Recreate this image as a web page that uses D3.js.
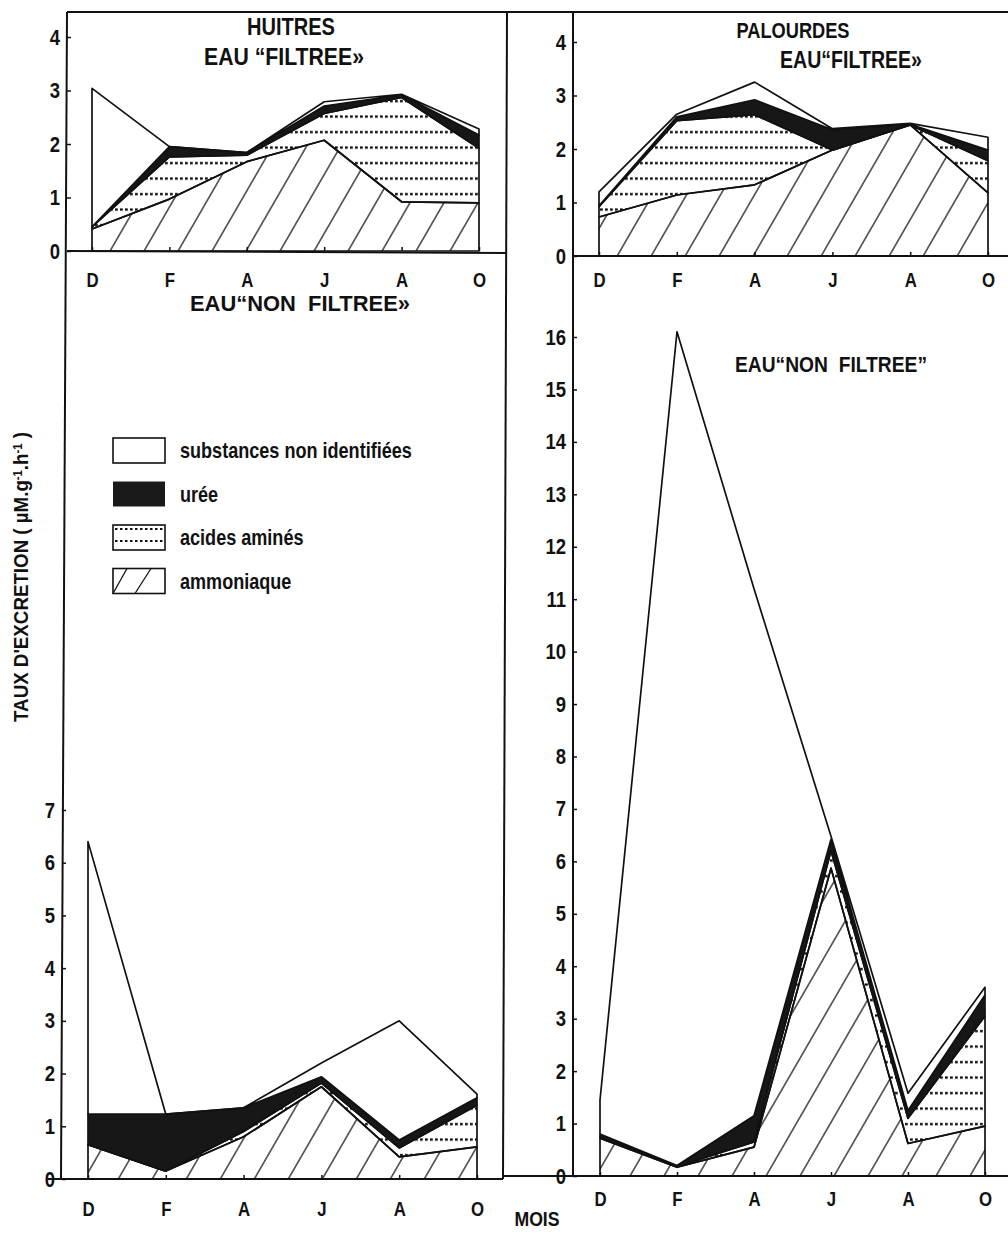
<!DOCTYPE html>
<html>
<head>
<meta charset="utf-8">
<script src="https://cdn.jsdelivr.net/npm/d3@7"></script>
<style>
  body { margin: 0; background: #fff; }
  svg text {
    font-family: "Liberation Sans", Arial, sans-serif;
    font-weight: bold;
    fill: #111;
  }
</style>
</head>
<body>
<svg id="chart" width="1008" height="1242"></svg>
<script>
// Months (D = December ... O = October)
const months = ['D', 'F', 'A', 'J', 'A', 'O'];
const layerKeys = ['ammoniaque', 'acides', 'uree', 'nonIdent'];
const legendLabels = ['substances non identifiées', 'urée', 'acides aminés', 'ammoniaque'];

// Huitres, eau "filtree" (µM.g-1.h-1, each component)
const huitresFiltAmmoniaque = [0.41, 0.97, 1.67, 2.07, 0.92, 0.90];
const huitresFiltAcides     = [0.04, 0.79, 0.12, 0.50, 1.95, 1.02];
const huitresFiltUree       = [0.00, 0.19, 0.05, 0.14, 0.05, 0.25];
const huitresFiltNonIdent   = [2.59, 0.00, 0.00, 0.08, 0.01, 0.11];

// Palourdes, eau "filtree"
const palourdesFiltAmmoniaque = [0.73, 1.14, 1.33, 1.98, 2.45, 1.18];
const palourdesFiltAcides     = [0.19, 1.39, 1.31, 0.00, 0.00, 0.60];
const palourdesFiltUree       = [0.02, 0.07, 0.28, 0.38, 0.01, 0.20];
const palourdesFiltNonIdent   = [0.26, 0.05, 0.33, 0.02, 0.02, 0.24];

// Huitres, eau "non filtree"
const huitresBrutAmmoniaque = [0.65, 0.15, 0.80, 1.75, 0.42, 0.61];
const huitresBrutAcides     = [0.00, 0.00, 0.10, 0.07, 0.17, 0.79];
const huitresBrutUree       = [0.58, 1.08, 0.45, 0.12, 0.15, 0.14];
const huitresBrutNonIdent   = [5.17, 0.00, 0.00, 0.26, 2.26, 0.07];

// Palourdes, eau "non filtree"
const palourdesBrutAmmoniaque = [0.72, 0.17, 0.55, 5.87, 0.62, 0.95];
const palourdesBrutAcides     = [0.03, 0.01, 0.10, 0.33, 0.48, 2.10];
const palourdesBrutUree       = [0.05, 0.02, 0.50, 0.22, 0.15, 0.40];
const palourdesBrutNonIdent   = [0.65, 15.90, 10.05, 0.06, 0.33, 0.15];

// Panel layout (pixel geometry of each small chart)
const panels = [
  {
    series: [huitresFiltAmmoniaque, huitresFiltAcides, huitresFiltUree, huitresFiltNonIdent],
    yMax: 4, xRange: [92, 479], yRange: [251, 37], axisX: 67, monthPad: 22,
    titles: [
      { text: 'HUITRES', x: 291, y: 35, size: 24, w: 88 },
      { text: 'EAU “FILTREE»', x: 284, y: 65, size: 23, w: 160 }
    ]
  },
  {
    series: [palourdesFiltAmmoniaque, palourdesFiltAcides, palourdesFiltUree, palourdesFiltNonIdent],
    yMax: 4, xRange: [599, 988], yRange: [256, 42], axisX: 573, monthPad: 17,
    titles: [
      { text: 'PALOURDES', x: 793, y: 38, size: 22, w: 113 },
      { text: 'EAU“FILTREE»', x: 851, y: 68, size: 23, w: 142 }
    ]
  },
  {
    series: [huitresBrutAmmoniaque, huitresBrutAcides, huitresBrutUree, huitresBrutNonIdent],
    yMax: 7, xRange: [88, 477], yRange: [1179, 810], axisX: 62, monthPad: 23,
    titles: [{ text: 'EAU“NON  FILTREE»', x: 300, y: 311, size: 22, w: 220 }]
  },
  {
    series: [palourdesBrutAmmoniaque, palourdesBrutAcides, palourdesBrutUree, palourdesBrutNonIdent],
    yMax: 16, xRange: [600, 985], yRange: [1176, 337], axisX: 573, monthPad: 16,
    titles: [{ text: 'EAU“NON  FILTREE”', x: 831, y: 372, size: 22, w: 192 }]
  }
];

const svg = d3.select('#chart');
const ink = '#111';
const narrow = 0.84; // the lettering of the figure is a condensed face

// Squeeze a text to a narrow width, keeping it as real text
function condense(sel, k) {
  sel.each(function() {
    const w = this.getComputedTextLength();
    d3.select(this)
      .attr('textLength', w * k)
      .attr('lengthAdjust', 'spacingAndGlyphs');
  });
}

// Fill patterns: hatching for ammonia, dotted rows for amino acids
const defs = svg.append('defs');
defs.append('pattern')
  .attr('id', 'hatch')
  .attr('patternUnits', 'userSpaceOnUse')
  .attr('width', 34)
  .attr('height', 20)
  .attr('patternTransform', 'skewX(-30)')
  .append('line')
  .attr('x1', 17).attr('y1', -1)
  .attr('x2', 17).attr('y2', 21)
  .attr('stroke', '#000')
  .attr('stroke-width', 1.3);

defs.append('pattern')
  .attr('id', 'dots')
  .attr('patternUnits', 'userSpaceOnUse')
  .attr('width', 5)
  .attr('height', 15.5)
  .append('rect')
  .attr('x', 0).attr('y', 7)
  .attr('width', 2.8).attr('height', 2.2)
  .attr('fill', '#000');

const layerFill = {
  ammoniaque: 'url(#hatch)',
  acides: 'url(#dots)',
  uree: '#171717',
  nonIdent: '#fff'
};

// Frame lines of the whole figure
const frame = [
  [67, 12, 1008, 12],     // top border
  [67, 12, 61, 1179],     // left axis
  [507, 12, 503, 1179],   // separator
  [573, 12, 573, 1176],   // right axis
  [67, 251, 506, 253],    // top-left baseline
  [573, 256, 1008, 256],  // top-right baseline
  [48, 1179, 503, 1179],  // bottom-left baseline
  [503, 1176, 1008, 1176] // bottom-right baseline
];
svg.append('g')
  .selectAll('line')
  .data(frame)
  .join('line')
  .attr('x1', d => d[0]).attr('y1', d => d[1])
  .attr('x2', d => d[2]).attr('y2', d => d[3])
  .attr('stroke', ink)
  .attr('stroke-width', 2);

panels.forEach(p => {
  const x = d3.scalePoint().domain(d3.range(months.length)).range(p.xRange);
  const y = d3.scaleLinear().domain([0, p.yMax]).range(p.yRange);

  const table = months.map((m, i) => {
    const row = {};
    layerKeys.forEach((k, j) => { row[k] = p.series[j][i]; });
    return row;
  });
  const stacked = d3.stack().keys(layerKeys)(table);

  const area = d3.area()
    .x((d, i) => x(i))
    .y0(d => y(d[0]))
    .y1(d => y(d[1]));

  const g = svg.append('g');

  g.selectAll('path.layer')
    .data(stacked)
    .join('path')
    .attr('class', 'layer')
    .attr('d', area)
    .attr('fill', d => layerFill[d.key])
    .attr('stroke', ink)
    .attr('stroke-width', 1.7)
    .attr('stroke-linejoin', 'round');

  // y axis ticks and labels
  const yAxis = d3.axisLeft(y)
    .tickValues(d3.range(0, p.yMax + 1))
    .tickFormat(d3.format('d'))
    .tickSize(-4)
    .tickPadding(7);

  g.append('g')
    .attr('transform', `translate(${p.axisX},0)`)
    .call(yAxis)
    .call(a => a.select('.domain').remove())
    .call(a => a.selectAll('line').attr('stroke', ink).attr('stroke-width', 1.5))
    .call(a => a.selectAll('text').attr('font-size', 22).attr('fill', ink).call(condense, narrow));

  // month axis
  const xAxis = d3.axisBottom(x)
    .tickFormat(i => months[i])
    .tickSize(-4)
    .tickPadding(p.monthPad);

  g.append('g')
    .attr('transform', `translate(0,${y(0)})`)
    .call(xAxis)
    .call(a => a.select('.domain').remove())
    .call(a => a.selectAll('line').attr('stroke', ink).attr('stroke-width', 1.5))
    .call(a => a.selectAll('text').attr('font-size', 20).attr('fill', ink).call(condense, narrow));

  // titles
  g.selectAll('text.title')
    .data(p.titles)
    .join('text')
    .attr('class', 'title')
    .attr('x', d => d.x)
    .attr('y', d => d.y)
    .attr('text-anchor', 'middle')
    .attr('font-size', d => d.size)
    .attr('xml:space', 'preserve')
    .style('white-space', 'pre')
    .attr('textLength', d => d.w)
    .attr('lengthAdjust', 'spacingAndGlyphs')
    .text(d => d.text);
});

// Legend
const legend = svg.append('g').attr('transform', 'translate(113,438)');
const rowGap = 43.5;
const boxW = 52;
const boxH = 25;

legendLabels.forEach((label, i) => {
  const row = legend.append('g').attr('transform', `translate(0,${i * rowGap})`);
  if (i === 1) {
    row.append('rect')
      .attr('width', boxW).attr('height', boxH)
      .attr('fill', '#1a1a1a');
  } else {
    row.append('rect')
      .attr('width', boxW).attr('height', boxH)
      .attr('fill', '#fff')
      .attr('stroke', ink)
      .attr('stroke-width', 1.6);
  }
  if (i === 2) {
    [4, 16].forEach(dy => {
      row.append('line')
        .attr('x1', 2).attr('x2', boxW - 2)
        .attr('y1', dy).attr('y2', dy)
        .attr('stroke', ink)
        .attr('stroke-width', 1.8)
        .attr('stroke-dasharray', '2.5 2.5');
    });
  }
  if (i === 3) {
    [[0, boxH, 14, 0], [22, boxH, 38, 0]].forEach(s => {
      row.append('line')
        .attr('x1', s[0]).attr('y1', s[1])
        .attr('x2', s[2]).attr('y2', s[3])
        .attr('stroke', ink)
        .attr('stroke-width', 1.3);
    });
  }
  row.append('text')
    .attr('x', 67)
    .attr('y', boxH / 2)
    .attr('dy', '0.35em')
    .attr('font-size', 21.5)
    .text(label)
    .call(condense, narrow);
});

// y axis title, squeezed to the length it has in the figure
const yTitle = svg.append('text')
  .attr('text-anchor', 'middle')
  .attr('dy', '0.35em')
  .attr('font-size', 20);
yTitle.append('tspan').text('TAUX D\'EXCRETION ( µM.g');
yTitle.append('tspan').attr('baseline-shift', 'super').attr('font-size', 12).text('-1');
yTitle.append('tspan').text('.h');
yTitle.append('tspan').attr('baseline-shift', 'super').attr('font-size', 12).text('-1');
yTitle.append('tspan').text(' )');
const yTitleLen = yTitle.node().getComputedTextLength();
yTitle.attr('transform', `translate(21,577) rotate(-90) scale(${290 / yTitleLen},1)`);

// x axis title
svg.append('text')
  .attr('x', 537)
  .attr('y', 1226)
  .attr('text-anchor', 'middle')
  .attr('font-size', 21)
  .text('MOIS')
  .call(condense, narrow);
</script>
</body>
</html>
